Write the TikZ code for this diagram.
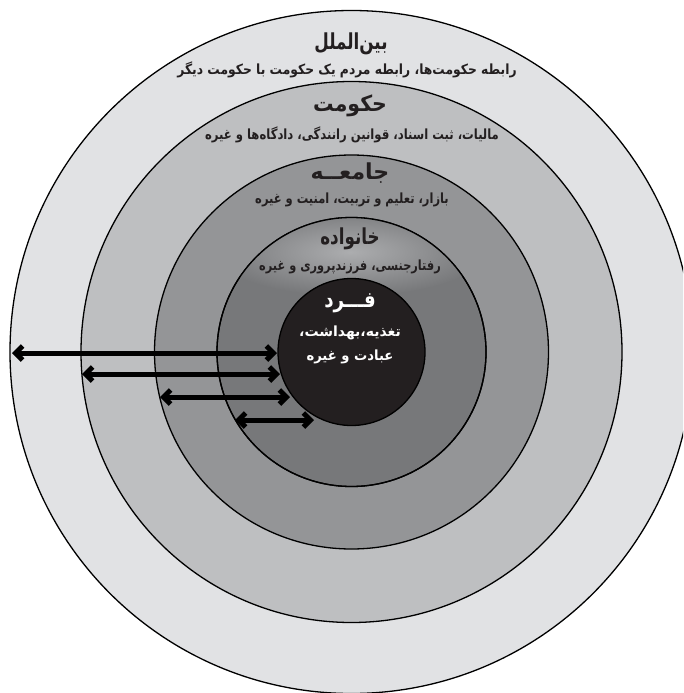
\documentclass[tikz,border=0pt]{standalone}
\usepackage{fontspec}
\newfontfamily\arabicfont[Script=Arabic]{DejaVu Sans}
\TeXXeTstate=1
\usetikzlibrary{arrows.meta}
\definecolor{ringA}{RGB}{225,226,228}
\definecolor{ringB}{RGB}{190,191,193}
\definecolor{ringC}{RGB}{148,149,151}
\definecolor{ringD}{RGB}{119,120,122}
\definecolor{ringE}{RGB}{35,31,32}
\definecolor{glowc}{RGB}{172,173,175}
\definecolor{txt}{RGB}{35,31,32}
\begin{document}
\begin{tikzpicture}[x=1pt,y=-1pt,
  ring/.style={circle, draw=black, line width=1.3pt, inner sep=0pt, outer sep=0pt},
  ttl/.style={font=\arabicfont\bfseries\fontsize{22}{26}\selectfont, text=txt, inner sep=0pt},
  sub/.style={font=\arabicfont\bfseries\fontsize{14}{17}\selectfont, text=txt, inner sep=0pt},
  wsub/.style={font=\arabicfont\bfseries\fontsize{14}{17}\selectfont, text=white, inner sep=0pt},
  barb/.tip={Straight Barb[length=7pt,width=14pt,line width=5pt]},
  dbl/.style={line width=5pt, draw=black, barb-barb}
]
\useasboundingbox (0,0) rectangle (683,693);
\clip (0,0) rectangle (683,693);
\fill[white] (0,0) rectangle (683,693);
\node[ring, fill=ringA, minimum size=683pt] (outer) at (351.5,352) {};
\node[ring, fill=ringB, minimum size=541pt] (gov) at (351.5,352) {};
\node[ring, fill=ringC, minimum size=394pt] (soc) at (351.5,352) {};
\node[ring, fill=ringD, minimum size=269pt] (fam) at (351.5,352) {};
\begin{scope}
  \clip (fam.center) circle (134.5);
  \shade[inner color=glowc, outer color=ringD] (350,252) ellipse (135 and 44);
\end{scope}
\draw[line width=1.3pt] (fam.center) circle (134.5);
\node[ring, fill=ringE, minimum size=147pt] (ind) at (351.5,352) {};

% arrows
\coordinate (a1l) at (12,353);  \coordinate (a1r) at (277,353);
\coordinate (a2l) at (82,374);  \coordinate (a2r) at (280,374);
\coordinate (a3l) at (160,397); \coordinate (a3r) at (290,397);
\coordinate (a4l) at (235,420); \coordinate (a4r) at (314,420);
\draw[dbl] (a1l) -- (a1r);
\draw[dbl] (a2l) -- (a2r);
\draw[dbl] (a3l) -- (a3r);
\draw[dbl] (a4l) -- (a4r);

% texts
\node[ttl] (t1) at (351,44) {\scalebox{0.76}[1]{\beginR بین‌الملل\endR}};
\node[sub] (s1) at (347,70) {\scalebox{0.88}[1]{\beginR رابطه حکومت‌ها، رابطه مردم یک حکومت با حکومت دیگر\endR}};
\node[ttl] (t2) at (350,106) {\scalebox{0.93}[1]{\beginR حکومت\endR}};
\node[sub] (s2) at (352,135) {\scalebox{0.83}[1]{\beginR مالیات، ثبت اسناد، قوانین رانندگی، دادگاه‌ها و غیره\endR}};
\node[ttl] (t3) at (350,173) {\scalebox{1.0}[1]{\beginR جامعــه\endR}};
\node[sub] (s3) at (352,200) {\scalebox{0.82}[1]{\beginR بازار، تعلیم و تربیت، امنیت و غیره\endR}};
\node[ttl] (t4) at (350,239) {\scalebox{0.76}[1]{\beginR خانواده\endR}};
\node[sub] (s4) at (350,267) {\scalebox{0.81}[1]{\beginR رفتارجنسی، فرزندپروری و غیره\endR}};
\node[ttl, text=white] (t5) at (350,303) {\scalebox{0.83}[1]{\beginR فـــرد\endR}};
\node[wsub] (s5) at (350,333) {\scalebox{1.0}[1]{\beginR تغذیه،بهداشت،\endR}};
\node[wsub] (s6) at (350,357) {\scalebox{0.94}[1]{\beginR عبادت و غیره\endR}};
\end{tikzpicture}
\end{document}
